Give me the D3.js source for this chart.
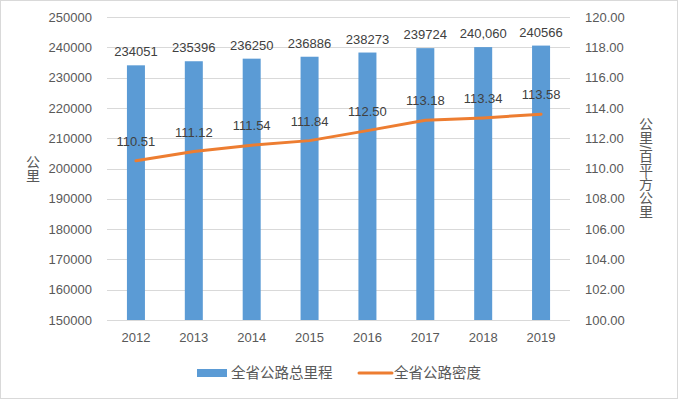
<!DOCTYPE html>
<html><head><meta charset="utf-8">
<script src="https://cdn.jsdelivr.net/npm/d3@7"></script>
<style>body{margin:0;background:#fff}svg{display:block}text{font-family:"Liberation Sans","Noto Sans CJK SC",sans-serif}</style>
</head><body><svg id="c" width="678" height="399"></svg>
<script>
const years = ["2012","2013","2014","2015","2016","2017","2018","2019"];
const mileage = [234051,235396,236250,236886,238273,239724,240060,240566];
const mileageLabels = ["234051","235396","236250","236886","238273","239724","240,060","240566"];
const density = [110.51,111.12,111.54,111.84,112.50,113.18,113.34,113.58];
const leftTicks = [150000,160000,170000,180000,190000,200000,210000,220000,230000,240000,250000];
const rightTicks = [100,102,104,106,108,110,112,114,116,118,120];
const seriesNames = ["全省公路总里程","全省公路密度"];
const leftTitle = "公里", rightTitle = "公里/百平方公里";

const svg = d3.select("#c");
const W=678,H=399, L=107, R=570, T=17, B=320;
svg.append("rect").attr("x",0.5).attr("y",0.5).attr("width",W-1).attr("height",H-1).attr("fill","#fff").attr("stroke","#d9d9d9");

const x = d3.scaleBand().domain(years).range([L,R]);
const yL = d3.scaleLinear().domain([150000,250000]).range([B,T]);
const yR = d3.scaleLinear().domain([100,120]).range([B,T]);

// gridlines
svg.append("g").selectAll("line").data(leftTicks).join("line")
  .attr("x1",L).attr("x2",R).attr("y1",d=>Math.round(yL(d))+0.5).attr("y2",d=>Math.round(yL(d))+0.5)
  .attr("stroke","#d9d9d9").attr("stroke-width",1);

// left axis
const gl = svg.append("g").attr("transform",`translate(${L-15},0)`)
  .call(d3.axisLeft(yL).tickValues(leftTicks).tickFormat(d3.format("d")).tickSize(0).tickPadding(0));
gl.select(".domain").remove();
gl.selectAll("text").attr("fill","#595959").style("font-size","13px");

// right axis
const gr = svg.append("g").attr("transform",`translate(${R+15},0)`)
  .call(d3.axisRight(yR).tickValues(rightTicks).tickFormat(d3.format(".2f")).tickSize(0).tickPadding(0));
gr.select(".domain").remove();
gr.selectAll("text").attr("fill","#595959").style("font-size","13px");

// x axis
const gx = svg.append("g").attr("transform",`translate(0,${B+13})`)
  .call(d3.axisBottom(x).tickSize(0).tickPadding(0));
gx.select(".domain").remove();
gx.selectAll("text").attr("fill","#595959").style("font-size","13px");

// bars
const bw = 18;
svg.append("g").selectAll("rect").data(years).join("rect")
  .attr("x",(d)=>x(d)+x.bandwidth()/2-bw/2).attr("width",bw)
  .attr("y",(d,i)=>yL(mileage[i])).attr("height",(d,i)=>B-yL(mileage[i]))
  .attr("fill","#5b9bd5");
svg.append("g").selectAll("text").data(years).join("text")
  .attr("x",d=>x(d)+x.bandwidth()/2).attr("y",(d,i)=>yL(mileage[i])-9)
  .attr("text-anchor","middle").attr("fill","#404040").style("font-size","13px")
  .text((d,i)=>mileageLabels[i]);

// line
const line = d3.line().x((d,i)=>x(years[i])+x.bandwidth()/2).y(d=>yR(d));
svg.append("path").datum(density).attr("d",line).attr("fill","none")
  .attr("stroke","#ed7d31").attr("stroke-width",3).attr("stroke-linejoin","round").attr("stroke-linecap","round");
svg.append("g").selectAll("text").data(density).join("text")
  .attr("x",(d,i)=>x(years[i])+x.bandwidth()/2).attr("y",d=>yR(d)-15)
  .attr("text-anchor","middle").attr("fill","#404040").style("font-size","13px")
  .text(d=>d3.format(".2f")(d));

// axis titles
svg.append("text").attr("x",32).attr("y",169).attr("text-anchor","middle")
  .style("writing-mode","vertical-rl").attr("dominant-baseline","central")
  .attr("fill","#595959").style("font-size","14px").text(leftTitle);
svg.append("text").attr("x",645).attr("y",168).attr("text-anchor","middle")
  .style("writing-mode","vertical-rl").attr("dominant-baseline","central")
  .attr("fill","#595959").style("font-size","14px").text(rightTitle);

// legend
const lg = svg.append("g");
lg.append("rect").attr("x",197).attr("y",369).attr("width",30).attr("height",8).attr("fill","#5b9bd5");
lg.append("text").attr("x",231).attr("y",373).attr("dominant-baseline","central")
  .attr("fill","#595959").style("font-size","14.5px").text(seriesNames[0]);
lg.append("line").attr("x1",359).attr("x2",392).attr("y1",373).attr("y2",373)
  .attr("stroke","#ed7d31").attr("stroke-width",3).attr("stroke-linecap","round");
lg.append("text").attr("x",394).attr("y",373).attr("dominant-baseline","central")
  .attr("fill","#595959").style("font-size","14.5px").text(seriesNames[1]);
</script></body></html>
